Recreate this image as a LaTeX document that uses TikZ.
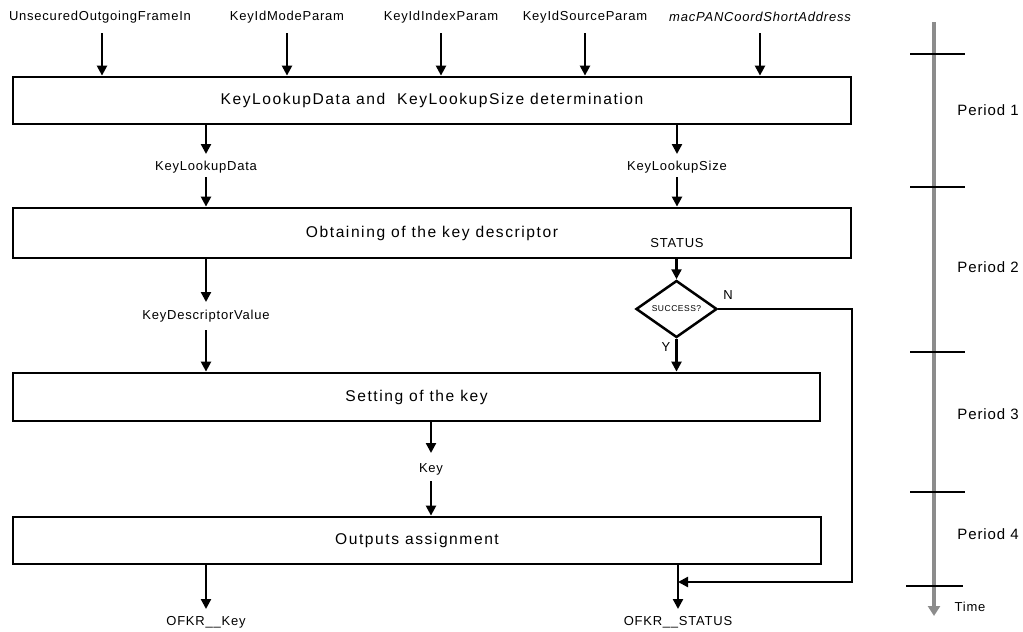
\documentclass[tikz,border=0pt]{standalone}
\usepackage{fontspec}
\setmainfont{Liberation Sans}
\newfontfamily\labfont[LetterSpace=6]{Liberation Sans}
\newfontfamily\boxfont[LetterSpace=10]{Liberation Sans}
\usetikzlibrary{arrows.meta,shapes.geometric}
\begin{document}
\begin{tikzpicture}[x=1pt,y=-1pt,
  blk/.style={draw,line width=2.8pt,minimum width=838pt,inner sep=0pt,font=\boxfont\fontsize{15.6}{18}\selectfont},
  lab/.style={inner sep=1pt,font=\labfont\fontsize{13}{15}\selectfont},
  per/.style={inner sep=1pt,font=\labfont\fontsize{15}{17}\selectfont},
  arr/.style={line width=2.3pt,-{Triangle[length=10pt,width=10pt]}},
  tickln/.style={line width=2.5pt},
  diam/.style={diamond,draw,line width=2.5pt,aspect=1.42,minimum width=81pt,minimum height=57pt,inner sep=0pt,font=\labfont\fontsize{8.5}{9}\selectfont}]
\useasboundingbox (0,0) rectangle (1023,632);

% boxes
\node[blk,minimum height=47pt] (b1) at (432,100.5) {KeyLookupData and\ \ KeyLookupSize determination};
\node[blk,minimum height=50pt] (b2) at (432,233) {Obtaining of the key descriptor};
\node[blk,minimum height=48pt,minimum width=807pt] (b3) at (416.5,397) {Setting of the key};
\node[blk,minimum height=47pt,minimum width=808pt] (b4) at (417,540.5) {Outputs assignment};

% top inputs
\node[lab] (t1) at (100,17) {UnsecuredOutgoingFrameIn};
\node[lab] (t2) at (287,17) {KeyIdModeParam};
\node[lab] (t3) at (441,17) {KeyIdIndexParam};
\node[lab] (t4) at (585,17) {KeyIdSourceParam};
\node[lab] (t5) at (760,17) {\itshape macPANCoordShortAddress};
\coordinate (s1) at (102,33);
\coordinate (s2) at (287,33);
\coordinate (s3) at (441,33);
\coordinate (s4) at (585,33);
\coordinate (s5) at (760,33);
\foreach \i in {1,...,5} \draw[arr] (s\i) -- (s\i |- b1.north);

% period 1 -> 2
\node[lab] (kld) at (206,167) {KeyLookupData};
\node[lab] (kls) at (677,167) {KeyLookupSize};
\draw[arr] (kld |- b1.south) -- (206,154);
\draw[arr] (206,177) -- (kld |- b2.north);
\draw[arr] (kls |- b1.south) -- (677,154);
\draw[arr] (677,177) -- (kls |- b2.north);

% period 2
\node[lab] (st) at (677,243) {STATUS};
\node[diam] (d) at (676.5,309) {SUCCESS?};
\draw[arr] (d.north |- b2.south) -- (d.north);
\node[lab] (nl) at (728,295) {N};
\node[lab] (yl) at (666,347) {Y};
\draw[arr] (d.south) -- (d.south |- b3.north);

\node[lab] (kdv) at (206,316) {KeyDescriptorValue};
\draw[arr] (kdv |- b2.south) -- (206,302);
\draw[arr] (206,330) -- (kdv |- b3.north);

% period 3
\node[lab] (key) at (431,469) {Key};
\draw[arr] (key |- b3.south) -- (431,453);
\draw[arr] (431,481) -- (key |- b4.north);

% outputs
\node[lab] (o1) at (206,622) {OFKR\_\_Key};
\node[lab] (o2) at (678,622) {OFKR\_\_STATUS};
\draw[arr] (o1 |- b4.south) -- (206,609);
\draw[arr] (o2 |- b4.south) -- (678,609);
\coordinate (nc) at (852,582);
\draw[arr] (d.east) -| (nc) -- (o2 |- nc);

% timeline
\coordinate (tl0) at (934,22);
\coordinate (tl1) at (934,616);
\draw[line width=4pt,color=gray!90,-{Triangle[length=10pt,width=12pt]}] (tl0) -- (tl1);
\foreach \y in {54,187,352,492} \draw[tickln] (910,\y) -- (965,\y);
\draw[tickln] (906,586) -- (963,586);
\node[per] (p1) at (988,110) {Period 1};
\node[per] (p2) at (988,267) {Period 2};
\node[per] (p3) at (988,414) {Period 3};
\node[per] (p4) at (988,534) {Period 4};
\node[lab] (tm) at (970,607) {Time};
\end{tikzpicture}
\end{document}
